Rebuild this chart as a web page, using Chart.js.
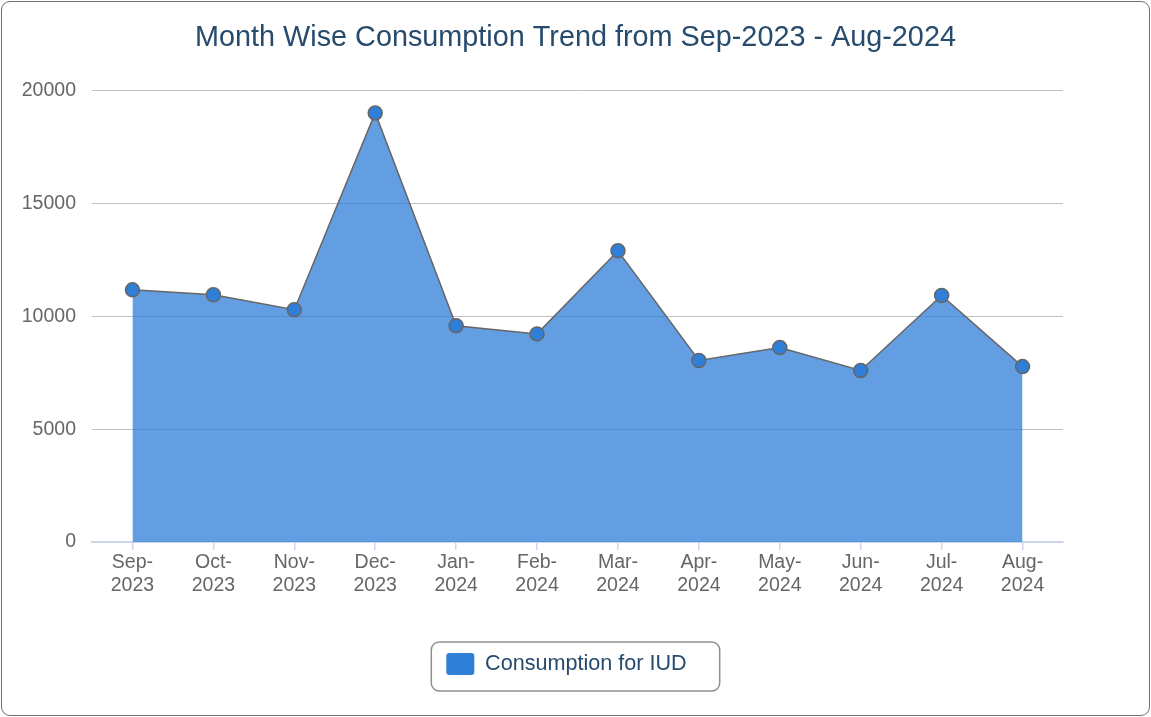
<!DOCTYPE html>
<html>
<head>
<meta charset="utf-8">
<script src="https://cdn.jsdelivr.net/npm/chart.js@4"></script>
<style>
	body { margin: 0; background: #fff; }
	#wrap { position: relative; width: 1151px; height: 717px; }
	#frame {
		position: absolute; left: 1px; top: 1px; width: 1149px; height: 715px;
		box-sizing: border-box; border: 1.5px solid #707070; border-radius: 9px;
		pointer-events: none;
	}
	canvas { position: absolute; left: 0; top: 0; }
</style>
</head>
<body>
<div id="wrap">
	<canvas id="trend" width="1151" height="717"></canvas>
	<div id="frame"></div>
</div>
<script>
const months = [
	["Sep-", "2023"], ["Oct-", "2023"], ["Nov-", "2023"], ["Dec-", "2023"],
	["Jan-", "2024"], ["Feb-", "2024"], ["Mar-", "2024"], ["Apr-", "2024"],
	["May-", "2024"], ["Jun-", "2024"], ["Jul-", "2024"], ["Aug-", "2024"],
];
const consumption = [11170, 10950, 10290, 19010, 9580, 9220, 12900, 8040, 8620, 7600, 10920, 7770];
const yTicks = [0, 5000, 10000, 15000, 20000];

const font = "'Liberation Sans', Arial, Helvetica, sans-serif";
const legendSize = 21.6;
Chart.defaults.font.family = font;

// nudges the legend a bit left and draws the rounded box around it
const legendFrame = {
	id: "legendFrame",
	afterUpdate(chart) {
		const lg = chart.legend;
		lg.left -= 9;
		lg.right -= 9;
	},
	afterDraw(chart) {
		const lg = chart.legend;
		const c = chart.ctx;
		c.save();
		c.font = legendSize + "px " + font;
		const textW = c.measureText(chart.data.datasets[0].label).width;
		const itemW = 28 + legendSize / 2 + textW;
		const mid = (lg.left + lg.right) / 2;
		const left = mid - itemW / 2;
		const cy = lg.top + lg.height / 2;
		const x0 = left - 15, x1 = left + itemW + 33;
		const y0 = cy - 22, y1 = cy + 27;
		c.strokeStyle = "#909090";
		c.lineWidth = 1.5;
		c.beginPath();
		c.roundRect(x0, y0, x1 - x0, y1 - y0, 8);
		c.stroke();
		c.restore();
	},
};

const ctx = document.getElementById("trend").getContext("2d");

new Chart(ctx, {
	type: "line",
	data: {
		labels: months,
		datasets: [
			{
				label: "Consumption for IUD",
				data: consumption,
				fill: "origin",
				backgroundColor: "rgba(47, 126, 216, 0.75)",
				borderColor: "#666666",
				borderWidth: 1.5,
				tension: 0,
				pointRadius: 7,
				pointHoverRadius: 7,
				pointBackgroundColor: "#2f7ed8",
				pointBorderColor: "#666666",
				pointBorderWidth: 1.5,
			},
		],
	},
	options: {
		responsive: false,
		animation: false,
		devicePixelRatio: 1,
		layout: { padding: { left: 0, right: 0, top: 21, bottom: 32 } },
		scales: {
			x: {
				offset: true,
				grid: {
					display: true,
					drawOnChartArea: false,
					drawTicks: true,
					tickLength: 8,
					color: "#ccd6eb",
					lineWidth: 1.5,
				},
				border: { display: true, color: "#ccd6eb", width: 2 },
				ticks: {
					color: "#666666",
					font: { size: 19.5 },
					padding: 1,
					maxRotation: 0,
					autoSkip: false,
				},
				afterFit(s) { s.height = 101; },
			},
			y: {
				min: 0,
				max: 20000,
				afterBuildTicks(s) { s.ticks = yTicks.map(v => ({ value: v })); },
				grid: { color: "#c0c0c0", lineWidth: 1, drawTicks: false },
				border: { display: false },
				ticks: {
					color: "#666666",
					font: { size: 19.5 },
					padding: 16,
					callback: v => String(v),
				},
				afterFit(s) { s.width = 92; },
			},
			yRight: {
				position: "right",
				display: true,
				grid: { display: false },
				border: { display: false },
				ticks: { display: false },
				afterFit(s) { s.width = 88; },
			},
		},
		plugins: {
			title: {
				display: true,
				text: "Month Wise Consumption Trend from Sep-2023 - Aug-2024",
				color: "#274b6d",
				font: { size: 28.8, weight: "normal" },
				padding: { top: 0, bottom: 35 },
			},
			legend: {
				position: "bottom",
				labels: {
					color: "#274b6d",
					font: { size: legendSize },
					boxWidth: 28,
					boxHeight: 22,
					padding: 10,
					useBorderRadius: true,
					borderRadius: 3,
					generateLabels(chart) {
						return Chart.defaults.plugins.legend.labels.generateLabels(chart).map(l => ({
							...l,
							fillStyle: "#2f7ed8",
							strokeStyle: "#2f7ed8",
							lineWidth: 0,
						}));
					},
				},
			},
			tooltip: { enabled: false },
		},
	},
	plugins: [legendFrame],
});
</script>
</body>
</html>
